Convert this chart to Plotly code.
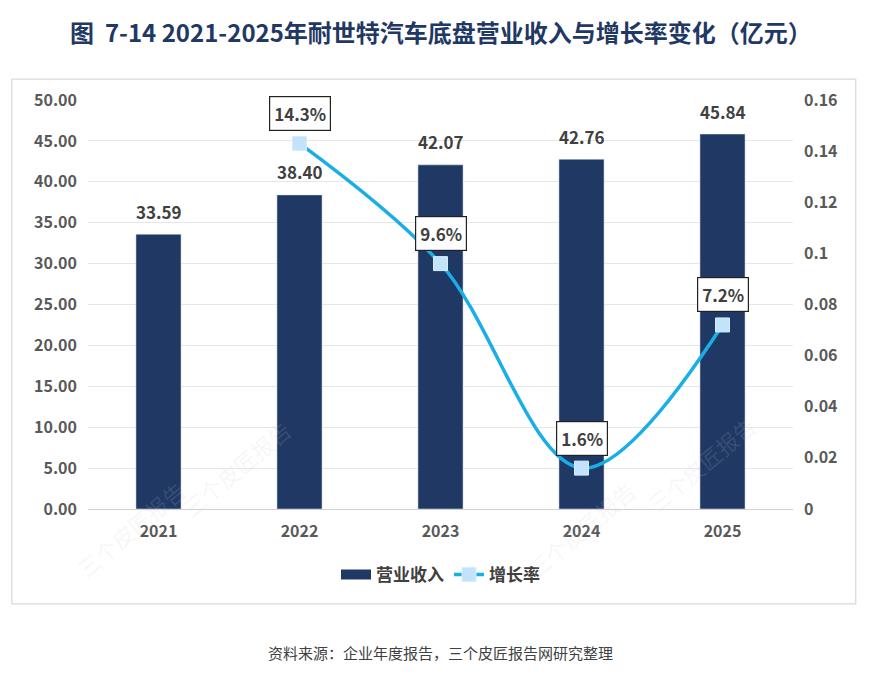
import plotly.graph_objects as go

years = ['2021', '2022', '2023', '2024', '2025']
revenue = [33.59, 38.40, 42.07, 42.76, 45.84]
growth = [None, 0.143, 0.096, 0.016, 0.072]
growth_labels = ['', '14.3%', '9.6%', '1.6%', '7.2%']
y2_ticks = [0, 0.02, 0.04, 0.06, 0.08, 0.1, 0.12, 0.14, 0.16]
y2_text = ['0', '0.02', '0.04', '0.06', '0.08', '0.1', '0.12', '0.14', '0.16']

font_cn = 'Noto Sans CJK SC'
navy = '#1f3864'
sky = '#1aaee6'
tickf = dict(size=16, color='#595959', family=font_cn, weight='bold')

fig = go.Figure()

fig.add_trace(go.Bar(
    x=years, y=revenue, name='营业收入', showlegend=False,
    marker=dict(color=navy),
    width=0.32,
))

# 图例用（宽色块）
fig.add_trace(go.Scatter(
    x=[None], y=[None], name='<b>营业收入</b>', mode='lines',
    line=dict(color=navy, width=11),
))

fig.add_trace(go.Scatter(
    x=years, y=growth, name='<b>增长率</b>', yaxis='y2',
    mode='lines+markers',
    line=dict(color=sky, width=3.5, shape='spline', smoothing=1.0),
    marker=dict(symbol='square', size=14, color='#c2e3f9',
                line=dict(color='#d6ecfa', width=1)),
))

# 柱子数值标签；类别轴上注释用序号定位
for i, v in enumerate(revenue):
    fig.add_annotation(
        x=i, y=v, text='<b>%.2f</b>' % v, showarrow=False, yshift=23,
        font=dict(size=17, color='#404040', family=font_cn),
    )

# 增长率数据标签（带边框）
for i, (g, lab) in enumerate(zip(growth, growth_labels)):
    if g is None:
        continue
    fig.add_annotation(
        x=i, y=g, yref='y2', text='<b>' + lab + '</b>',
        showarrow=False, yshift=30,
        font=dict(size=17, color='#404040', family=font_cn),
        bgcolor='white', bordercolor='#222222', borderwidth=1.2, borderpad=4,
    )

# 标题
fig.add_annotation(
    x=0.5, y=1, xref='paper', yref='paper', yanchor='middle', yshift=69,
    text='<b>图  7-14 2021-2025年耐世特汽车底盘营业收入与增长率变化（亿元）</b>',
    showarrow=False, font=dict(size=24, color=navy, family=font_cn),
)

# 资料来源
fig.add_annotation(
    x=0.5, y=0, xref='paper', yref='paper', yanchor='middle', yshift=-143,
    text='资料来源：企业年度报告，三个皮匠报告网研究整理',
    showarrow=False, font=dict(size=15, color='#404040', family=font_cn),
)

# 水印
for wx, wy in [(0.12, -0.04), (-0.03, -0.19), (0.79, -0.19), (0.96, -0.03)]:
    fig.add_annotation(
        x=wx, y=wy, xref='paper', yref='paper', text='三个皮匠报告',
        showarrow=False, textangle=-40,
        font=dict(size=22, color='rgba(200,200,200,0.16)', family=font_cn),
    )

# 外框
fig.add_shape(type='rect', xref='paper', yref='paper',
              x0=-0.108, x1=1.089, y0=-0.232, y1=1.051,
              line=dict(color='#d9d9d9', width=1.2), fillcolor='rgba(0,0,0,0)')

fig.update_layout(
    width=876, height=675,
    margin=dict(l=80, r=91, t=92, b=174),
    paper_bgcolor='white', plot_bgcolor='white',
    font=dict(family=font_cn, color='#595959', size=16),
    showlegend=True,
    legend=dict(orientation='h', x=0.5, xanchor='center', y=-0.161, yanchor='middle',
                font=dict(size=17, color='#404040', family=font_cn),
                traceorder='normal'),
    xaxis=dict(type='category', range=[-0.5, 4.5], showline=True, linecolor='#d0d0d0',
               linewidth=1, ticks='', tickfont=tickf, showgrid=False, ticklabelstandoff=8),
    yaxis=dict(range=[0, 50], dtick=5, tickformat='.2f', showgrid=True,
               gridcolor='#e6e6e6', zeroline=False, ticks='',
               tickfont=tickf, ticklabelstandoff=10),
    yaxis2=dict(range=[0, 0.16], overlaying='y', side='right', tickvals=y2_ticks,
                ticktext=y2_text, showgrid=False, zeroline=False,
                tickfont=tickf, ticklabelstandoff=10),
)

fig.write_html('out.html')
